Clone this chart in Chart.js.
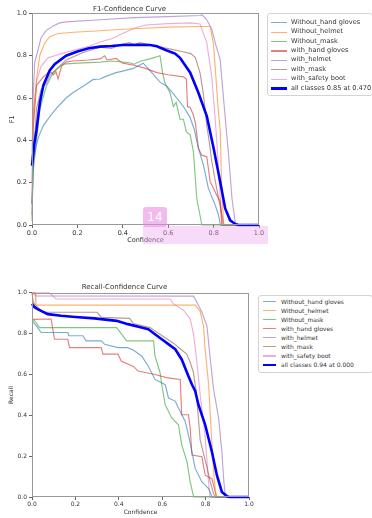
<!DOCTYPE html>
<html><head><meta charset="utf-8">
<script src="https://cdn.jsdelivr.net/npm/chart.js@4.4.0/dist/chart.umd.min.js"></script>
<style>
html,body{margin:0;padding:0;background:#fff;width:372px;height:518px;overflow:hidden;font-family:"DejaVu Sans",sans-serif;}
canvas{position:absolute;}
.legend{position:absolute;border:1px solid #d4d4d4;border-radius:3px;background:rgba(255,255,255,0.85);box-sizing:border-box;}
.row{position:absolute;white-space:nowrap;color:#333;font-family:"DejaVu Sans",sans-serif;}
.sw{position:absolute;}
</style></head><body>
<canvas id="f1" width="268" height="246" style="left:0;top:0"></canvas>
<canvas id="rc" width="258" height="237" style="left:0;top:280px"></canvas>
<div id="legTop" class="legend" style="left:267px;top:13px;width:106px;height:83px"></div>
<div id="legBot" class="legend" style="left:258px;top:295px;width:115px;height:78px"></div>
<div style="position:absolute;left:143px;top:226px;width:125px;height:18px;background:rgba(238,165,238,0.4);z-index:4"></div>
<div style="position:absolute;left:143px;top:207px;width:24px;height:20px;background:rgba(232,132,226,0.55);border-radius:3px;color:#fff;font:12px 'DejaVu Sans';text-align:center;line-height:20px;z-index:5">14</div>
<script>
const classNames = ['Without_hand gloves','Without_helmet','Without_mask','with_hand gloves','with_helmet','with_mask','with_safety boot'];
const f1AllLabel = 'all classes 0.85 at 0.470';
const recallAllLabel = 'all classes 0.94 at 0.000';
const tickValues = [0, 0.2, 0.4, 0.6, 0.8, 1.0];
const tickLabels = ['0.0','0.2','0.4','0.6','0.8','1.0'];

// F1-Confidence curves [confidence, F1]
const f1WithoutHandGloves = [[0,0.1],[0.006,0.3],[0.018,0.37],[0.03,0.42],[0.05,0.47],[0.084,0.52],[0.115,0.56],[0.15,0.60],[0.18,0.625],[0.225,0.656],[0.27,0.688],[0.3,0.69],[0.32,0.70],[0.37,0.72],[0.4,0.727],[0.446,0.74],[0.49,0.765],[0.52,0.73],[0.564,0.675],[0.594,0.656],[0.623,0.62],[0.667,0.56],[0.696,0.51],[0.715,0.45],[0.733,0.363],[0.755,0.284],[0.777,0.173],[0.807,0.094],[0.822,0.046],[0.83,0],[1,0]];
const f1WithoutHelmet = [[0,0.3],[0.004,0.5],[0.02,0.69],[0.034,0.80],[0.056,0.86],[0.078,0.89],[0.115,0.905],[0.2,0.912],[0.3,0.918],[0.4,0.925],[0.5,0.93],[0.6,0.935],[0.74,0.938],[0.785,0.938],[0.79,0.91],[0.80,0.85],[0.81,0.70],[0.82,0.55],[0.829,0.45],[0.836,0.16],[0.844,0.01],[0.846,0],[1,0]];
const f1WithoutMask = [[0,0.05],[0.005,0.25],[0.02,0.40],[0.034,0.545],[0.063,0.656],[0.093,0.72],[0.137,0.76],[0.2,0.765],[0.3,0.77],[0.35,0.775],[0.43,0.767],[0.45,0.76],[0.48,0.775],[0.52,0.785],[0.564,0.80],[0.575,0.72],[0.586,0.67],[0.608,0.625],[0.623,0.56],[0.635,0.58],[0.652,0.50],[0.667,0.50],[0.68,0.44],[0.697,0.426],[0.711,0.347],[0.726,0.125],[0.74,0.046],[0.748,0],[1,0]];
const f1WithHandGloves = [[0,0.1],[0.005,0.45],[0.02,0.66],[0.05,0.70],[0.078,0.727],[0.095,0.71],[0.105,0.725],[0.115,0.69],[0.13,0.75],[0.15,0.77],[0.18,0.775],[0.25,0.78],[0.3,0.785],[0.32,0.80],[0.33,0.78],[0.37,0.787],[0.4,0.765],[0.45,0.755],[0.5,0.74],[0.55,0.72],[0.6,0.71],[0.667,0.70],[0.68,0.69],[0.685,0.56],[0.697,0.555],[0.711,0.52],[0.72,0.48],[0.733,0.363],[0.748,0.33],[0.77,0.323],[0.785,0.204],[0.814,0.141],[0.829,0.11],[0.836,0],[1,0]];
const f1WithHelmet = [[0,0.3],[0.005,0.6],[0.012,0.77],[0.027,0.83],[0.04,0.885],[0.063,0.92],[0.093,0.94],[0.122,0.955],[0.15,0.96],[0.3,0.97],[0.45,0.98],[0.6,0.985],[0.74,0.99],[0.75,0.993],[0.77,0.97],[0.792,0.925],[0.81,0.85],[0.829,0.78],[0.851,0.51],[0.866,0.33],[0.881,0.125],[0.895,0.014],[0.9,0],[1,0]];
const f1WithMask = [[0,0.02],[0.005,0.3],[0.02,0.55],[0.04,0.64],[0.063,0.67],[0.08,0.71],[0.12,0.75],[0.15,0.78],[0.225,0.815],[0.3,0.84],[0.35,0.835],[0.4,0.855],[0.43,0.862],[0.45,0.85],[0.476,0.862],[0.55,0.845],[0.616,0.83],[0.66,0.82],[0.70,0.81],[0.72,0.79],[0.74,0.72],[0.755,0.62],[0.77,0.47],[0.78,0.40],[0.792,0.30],[0.814,0.17],[0.836,0.05],[0.845,0],[1,0]];
const f1WithSafetyBoot = [[0,0.2],[0.005,0.5],[0.02,0.68],[0.04,0.75],[0.07,0.79],[0.1,0.80],[0.13,0.81],[0.2,0.83],[0.25,0.845],[0.3,0.865],[0.35,0.88],[0.4,0.905],[0.45,0.93],[0.5,0.945],[0.6,0.952],[0.7,0.955],[0.74,0.95],[0.77,0.862],[0.792,0.70],[0.807,0.50],[0.815,0.38],[0.825,0.2],[0.835,0.05],[0.84,0],[1,0]];
const f1AllClasses = [[0,0.28],[0.01,0.38],[0.02,0.45],[0.035,0.58],[0.05,0.66],[0.078,0.73],[0.1,0.76],[0.15,0.80],[0.2,0.82],[0.25,0.835],[0.3,0.843],[0.35,0.846],[0.4,0.851],[0.47,0.852],[0.52,0.851],[0.55,0.845],[0.594,0.825],[0.63,0.81],[0.652,0.79],[0.697,0.72],[0.733,0.625],[0.77,0.515],[0.80,0.363],[0.829,0.204],[0.851,0.078],[0.873,0.022],[0.895,0.005],[0.91,0],[1,0]];

// Recall-Confidence curves [confidence, recall]
const rcWithoutHandGloves = [[0,0.864],[0.026,0.83],[0.042,0.806],[0.165,0.806],[0.17,0.79],[0.234,0.79],[0.25,0.765],[0.319,0.765],[0.335,0.748],[0.396,0.732],[0.44,0.732],[0.467,0.72],[0.506,0.69],[0.536,0.641],[0.567,0.576],[0.614,0.55],[0.629,0.485],[0.66,0.47],[0.675,0.436],[0.706,0.37],[0.721,0.304],[0.737,0.222],[0.752,0.14],[0.783,0.074],[0.814,0.041],[0.83,0],[1,0]];
const rcWithoutHelmet = [[0,1.0],[0.015,1.0],[0.018,0.94],[0.752,0.94],[0.775,0.91],[0.79,0.84],[0.798,0.72],[0.814,0.55],[0.821,0.41],[0.83,0.25],[0.837,0.12],[0.845,0.03],[0.85,0],[1,0]];
const rcWithoutMask = [[0,0.87],[0.012,0.864],[0.035,0.83],[0.39,0.83],[0.436,0.765],[0.56,0.765],[0.567,0.69],[0.59,0.61],[0.598,0.55],[0.614,0.452],[0.644,0.387],[0.675,0.354],[0.69,0.255],[0.714,0.173],[0.729,0.074],[0.745,0],[1,0]];
const rcWithHandGloves = [[0,0.87],[0.088,0.872],[0.104,0.773],[0.165,0.773],[0.173,0.732],[0.319,0.732],[0.327,0.70],[0.396,0.70],[0.411,0.666],[0.467,0.64],[0.489,0.617],[0.567,0.60],[0.62,0.585],[0.683,0.576],[0.69,0.403],[0.721,0.403],[0.729,0.337],[0.737,0.206],[0.783,0.197],[0.798,0.107],[0.829,0.09],[0.845,0.025],[0.85,0],[1,0]];
const rcWithHelmet = [[0,1.0],[0.02,0.985],[0.744,0.984],[0.76,0.954],[0.783,0.905],[0.806,0.84],[0.82,0.69],[0.837,0.526],[0.86,0.387],[0.875,0.222],[0.883,0.091],[0.89,0.01],[0.895,0],[1,0]];
const rcWithMask = [[0,1.0],[0.005,0.96],[0.011,0.946],[0.05,0.905],[0.3,0.905],[0.32,0.88],[0.45,0.875],[0.467,0.85],[0.544,0.83],[0.6,0.79],[0.65,0.755],[0.69,0.72],[0.713,0.70],[0.729,0.66],[0.744,0.61],[0.755,0.53],[0.765,0.41],[0.775,0.28],[0.79,0.214],[0.806,0.148],[0.82,0.08],[0.837,0.016],[0.845,0],[1,0]];
const rcWithSafetyBoot = [[0,1.0],[0.08,1.0],[0.111,0.97],[0.636,0.97],[0.652,0.946],[0.698,0.915],[0.729,0.872],[0.744,0.80],[0.76,0.66],[0.775,0.50],[0.798,0.296],[0.813,0.08],[0.82,0],[1,0]];
const rcAllClasses = [[0,0.946],[0.012,0.93],[0.026,0.92],[0.073,0.896],[0.134,0.888],[0.2,0.882],[0.288,0.875],[0.39,0.863],[0.442,0.847],[0.5,0.832],[0.536,0.822],[0.57,0.795],[0.598,0.773],[0.63,0.748],[0.66,0.724],[0.69,0.674],[0.721,0.592],[0.737,0.551],[0.752,0.52],[0.767,0.452],[0.798,0.354],[0.829,0.222],[0.852,0.107],[0.875,0.025],[0.9,0.002],[0.91,0],[1,0]];

const colors = ['#1f77b4','#ff7f0e','#2ca02c','#d62728','#9467bd','#8c564b','#e377c2'];
const FONT = '"DejaVu Sans", sans-serif';
const THIN_ALPHA = 0.6;

function toXY(a){ return a.map(p => ({x:p[0], y:p[1]})); }
function rgba(hex, a){ const n=parseInt(hex.slice(1),16); return `rgba(${n>>16},${(n>>8)&255},${n&255},${a})`; }

const framePlugin = {
  id:'frame',
  afterDatasetsDraw(chart){
    const {ctx, chartArea:a} = chart;
    ctx.save(); ctx.strokeStyle='#999'; ctx.lineWidth=1;
    ctx.strokeRect(Math.round(a.left)+0.5, Math.round(a.top)+0.5, Math.round(a.right-a.left)-1, Math.round(a.bottom-a.top)-1);
    ctx.restore();
  }
};

function makeChart(id, title, yTitle, series, all, allLabel, cfg){
  const datasets = series.map((s,i)=>({label:classNames[i], data:toXY(s), borderColor:rgba(colors[i],THIN_ALPHA), borderWidth:1.15, pointRadius:0, tension:0, fill:false, order:1, clip:4}));
  datasets.push({label:allLabel, data:toXY(all), borderColor:'#0000ff', borderWidth:2.6, pointRadius:0, tension:0, fill:false, order:0, clip:4});
  const tickFont = {family:FONT, size:cfg.tickSize};
  const axisCommon = {
    type:'linear', min:0, max:1,
    afterBuildTicks(s){ s.ticks = tickValues.map(v=>({value:v})); },
    grid:{display:true, drawOnChartArea:false, drawTicks:true, tickLength:3, color:'#666'},
    border:{display:false}
  };
  return new Chart(document.getElementById(id), {
    type:'line',
    data:{datasets},
    plugins:[framePlugin],
    options:{
      responsive:false, animation:false, devicePixelRatio:1,
      layout:{padding:{left:0,right:9,top:0,bottom:0}},
      plugins:{
        legend:{display:false}, tooltip:{enabled:false},
        title:{display:true, text:title, color:'#333', font:{family:FONT,size:7,weight:'normal'}, padding:{top:cfg.titlePad[0],bottom:cfg.titlePad[1]}}
      },
      scales:{
        x:Object.assign({}, axisCommon, {
          ticks:{callback:(v,i)=>tickLabels[i], font:tickFont, color:'#333', padding:1, maxRotation:0, autoSkip:false},
          title:{display:true, text:'Confidence', color:'#333', font:tickFont, padding:{top:0,bottom:cfg.xTitleBottom}},
          afterFit(s){ s.height = cfg.xh; }
        }),
        y:Object.assign({}, axisCommon, {
          ticks:{callback:(v,i)=>tickLabels[i], font:tickFont, color:'#333', padding:2, autoSkip:false},
          title:{display:true, text:yTitle, color:'#333', font:tickFont, padding:{top:8,bottom:0}},
          afterFit(s){ s.width = 32; }
        })
      }
    }
  });
}

makeChart('f1','F1-Confidence Curve','F1',
  [f1WithoutHandGloves,f1WithoutHelmet,f1WithoutMask,f1WithHandGloves,f1WithHelmet,f1WithMask,f1WithSafetyBoot],
  f1AllClasses, f1AllLabel, {tickSize:6.5, titlePad:[4.5,0.5], xh:21, xTitleBottom:2});
makeChart('rc','Recall-Confidence Curve','Recall',
  [rcWithoutHandGloves,rcWithoutHelmet,rcWithoutMask,rcWithHandGloves,rcWithHelmet,rcWithMask,rcWithSafetyBoot],
  rcAllClasses, recallAllLabel, {tickSize:6, titlePad:[3,1.5], xh:20, xTitleBottom:1});

function makeLegend(elId, allLabel, o){
  const box = document.getElementById(elId);
  const bx = parseFloat(box.style.left), by = parseFloat(box.style.top);
  const labels = classNames.concat([allLabel]);
  labels.forEach((lab,i)=>{
    const cy = o.firstY + o.step*i - by - 1;
    const isAll = i === labels.length-1;
    const sw = document.createElement('div');
    sw.className='sw';
    const lw = isAll ? 2.6 : 1.15;
    sw.style.cssText = `left:${o.lineX1-bx-1}px;top:${cy-lw/2}px;width:${o.lineX2-o.lineX1}px;height:${lw}px;background:${isAll?'#0000ff':rgba(colors[i],THIN_ALPHA)}`;
    box.appendChild(sw);
    const t = document.createElement('div');
    t.className='row';
    t.style.cssText = `left:${o.textX-bx-1}px;top:${cy-o.font*0.6}px;font-size:${o.font}px;line-height:${o.font*1.2}px`;
    t.textContent = lab;
    box.appendChild(t);
  });
}
makeLegend('legTop', f1AllLabel, {firstY:22.7, step:9.43, lineX1:271, lineX2:287, textX:291, font:6.6});
makeLegend('legBot', recallAllLabel, {firstY:301.7, step:9.04, lineX1:263, lineX2:276, textX:281, font:6});
</script>
</body></html>
